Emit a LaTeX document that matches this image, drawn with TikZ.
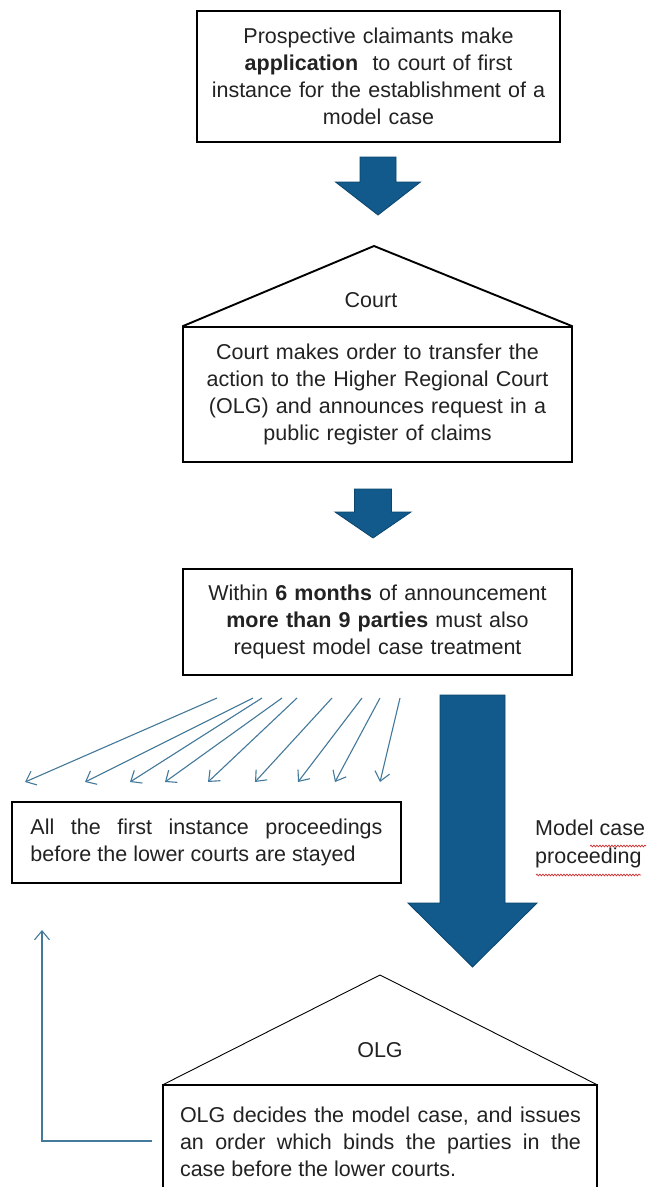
\documentclass[tikz,border=0pt]{standalone}
\usepackage{fontspec}
\setmainfont{Liberation Sans}
\usetikzlibrary{arrows.meta,decorations.pathmorphing}
\definecolor{blockblue}{HTML}{115A8B}
\definecolor{blockedge}{HTML}{0B456D}
\definecolor{thinblue}{HTML}{43799A}
\definecolor{txt}{HTML}{222222}
\definecolor{spellred}{HTML}{D03030}
\begin{document}
\begin{tikzpicture}[x=1pt,y=-1pt,
  every node/.style={font=\fontsize{21.5}{27}\selectfont, text=txt},
  box/.style={draw=black, line width=1.3pt, inner sep=0pt, fill=white},
  blockarrow/.style={fill=blockblue, draw=blockedge, line width=0.8pt, line join=miter},
  thinarrow/.style={draw=thinblue, line width=1.1pt, -{Straight Barb[length=9pt,width=15pt,line width=1.1pt]}},
  roof/.style={draw=black, line join=miter}
]
\useasboundingbox[fill=white] (0,0) rectangle (646,1187);

% --- box 1
\node[box, minimum width=363pt, minimum height=131pt, text width=355pt, align=center] (apply) at (378.5,76.5)
  {Prospective claimants make\\ \textbf{application}\ \ to court of first\\ instance for the establishment of a\\ model case};

% --- arrow 1
\draw[blockarrow] (360,157) -- (396,157) -- (396,182) -- (420.5,182) -- (378,215) -- (335.5,182) -- (360,182) -- cycle;

% --- court box with roof
\node[box, minimum width=389pt, minimum height=135pt, text width=370pt, align=center] (court) at (377.5,394.5)
  {Court makes order to transfer the\\ action to the Higher Regional Court\\ (OLG) and announces request in a\\ public register of claims};
\coordinate (courtapex) at (374,246);
\draw[roof, line width=1.9pt] (court.north west) -- (courtapex) -- (court.north east);
\node (courtlabel) at (371,300) {Court};

% --- arrow 2
\draw[blockarrow] (354.5,489) -- (391.5,489) -- (391.5,512) -- (411,512) -- (373,538) -- (335,512) -- (354.5,512) -- cycle;

% --- box 3
\node[box, minimum width=389pt, minimum height=106pt, text width=370pt, align=center] (within) at (377.5,622)
  {Within \textbf{6 months} of announcement\\ \textbf{more than 9 parties} must also\\ request model case treatment};

% --- box 4
\node[box, minimum width=389pt, minimum height=81pt, text width=352pt, align=justify] (stayed) at (206.5,842.5)
  {All the first instance proceedings\linebreak before the lower courts are stayed};

% --- fan of thin arrows
\coordinate (s1) at (217,698); \coordinate (t1) at (25,782);
\coordinate (s2) at (253,698); \coordinate (t2) at (85,782);
\coordinate (s3) at (262,698); \coordinate (t3) at (130,782);
\coordinate (s4) at (282,698); \coordinate (t4) at (165,782);
\coordinate (s5) at (297,698); \coordinate (t5) at (208,782);
\coordinate (s6) at (332,698); \coordinate (t6) at (255,782);
\coordinate (s7) at (362,698); \coordinate (t7) at (298,782);
\coordinate (s8) at (380,698); \coordinate (t8) at (335,782);
\coordinate (s9) at (400,698); \coordinate (t9) at (380,782);
\foreach \i in {1,...,9} { \draw[thinarrow] (s\i) -- (t\i); }

% --- big arrow
\draw[blockarrow] (440,695) -- (505,695) -- (505,903) -- (537,903) -- (472.5,967) -- (408,903) -- (440,903) -- cycle;

% --- side label
\node[anchor=north west, align=left, inner sep=0pt, font=\fontsize{21.5}{28}\selectfont] (mcp) at (535,820) {Model case\\proceeding};
\draw[spellred, line width=0.7pt, decorate, decoration={snake, amplitude=0.9pt, segment length=3pt}] (590,846) -- (646,846);
\draw[spellred, line width=0.7pt, decorate, decoration={snake, amplitude=0.9pt, segment length=3pt}] (536,875) -- (641,875);

% --- OLG box with roof
\node[box, minimum width=434pt, minimum height=150pt, anchor=north] (olg) at (380,1085) {};
\coordinate (olgapex) at (380,975);
\draw[roof, line width=0.9pt] (olg.north west) -- (olgapex) -- (olg.north east);
\draw[line width=1.9pt] (olg.north west) -- (olg.north east);
\node (olglabel) at (380,1050) {OLG};
\node[text width=401pt, align=justify, inner sep=0pt] (olgtext) at (380.5,1141.5)
  {OLG decides the model case, and issues\linebreak an order which binds the parties in the\linebreak case before the lower courts.};

% --- feedback arrow
\coordinate (fbstart) at (152,1141);
\coordinate (fbend) at (42,930);
\draw[thinarrow] (fbstart) -| (fbend);
\end{tikzpicture}
\end{document}
